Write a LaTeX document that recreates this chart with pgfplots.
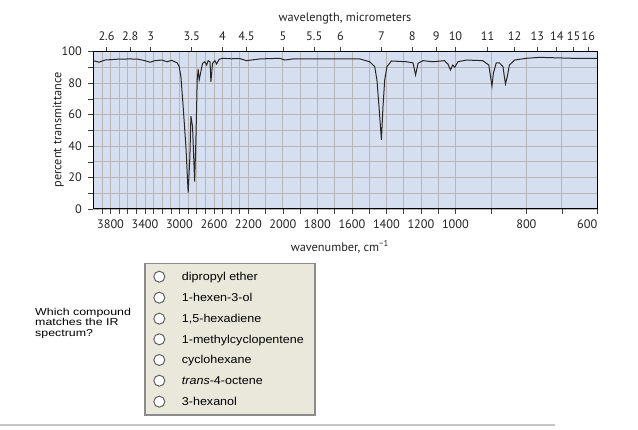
\documentclass[border=0pt]{standalone}
\usepackage{fontspec}
\setmainfont{PT Sans}
\newfontfamily\arial{Liberation Sans}
\usepackage{graphicx}
\usepackage{pgfplots}
\pgfplotsset{compat=1.18}

\definecolor{plotbg}{RGB}{213,223,240}
\definecolor{gridc}{RGB}{182,182,182}
\definecolor{boxfill}{RGB}{233,232,219}
\definecolor{boxline}{RGB}{140,140,140}
\definecolor{txt}{RGB}{35,35,35}

\pgfplotsset{
  irtrafo/.style={
    x coord trafo/.code={\pgfmathparse{(##1>=2200) ? (4000-##1)*0.08625 : ((##1>=1000) ? 155.25+(2200-##1)*0.17275 : 362.55+(1000-##1)*0.355)}},
  },
  irbase/.style={
    irtrafo,
    at={(93.3pt,221pt)}, anchor=south west,
    scale only axis, width=504pt, height=157.3pt,
    xmin=4000, xmax=600, ymin=0, ymax=100,
    tick align=outside,
    major tick length=5pt, minor tick length=5pt,
    tick style={black!75, line width=0.6pt},
    ticklabel style={font=\fontsize{12.3}{13}\selectfont, text=txt},
    label style={font=\fontsize{12.3}{13}\selectfont, text=txt},
    /pgf/number format/assume math mode=true,
  },
}

\pgfplotstableread{
w T
4000 94.3
3934 93.3
3864 94.7
3729 95.2
3574 95.4
3478 95.2
3401 94.3
3343 93.3
3285 94.3
3207 94.7
3142 93.6
3091 94.5
3026 92.9
3003 90.5
2983 84.1
2957 65
2925 39.6
2899 10.4
2879 33.2
2867 59.1
2848 52.3
2824 17.4
2809 43.9
2794 82
2783 89
2771 82
2751 87.5
2732 92.6
2705 93.6
2685 91.5
2667 94.3
2645 93.5
2635 80.9
2616 92.6
2589 94.3
2569 92.2
2539 95.2
2493 95.8
2400 95.5
2300 95.6
2221 94.3
2134 95.4
2018 95.8
1989 94.7
1941 95.4
1748 95.4
1555 95.4
1497 93.6
1468 90.5
1455 82
1443 65
1429 43.9
1420 65
1410 82
1397 90.5
1371 94.1
1284 93.6
1246 92.9
1231 85.2
1217 92.6
1188 94.3
1130 93.6
1063 94.3
1053 93
1044 92.2
1029 88.4
1016 91.5
1004 90.1
993 93.6
969 94.7
923 94.3
906 91.5
901 84.1
897 78.2
893 86.3
885 92.9
876 92.9
866 90.5
862 84
859 79.5
854 84
848 91.5
833 94.7
800 95.8
763 96.4
669 95.8
600 95.8
}\irdata

\begin{document}
\begin{tikzpicture}[x=1pt,y=1pt]
\path[use as bounding box] (0,0) rectangle (638,430);
% main axis (wavenumber)
\begin{axis}[
  irbase,
  axis background/.style={fill=plotbg},
  xtick={3800,3400,3000,2600,2200,2000,1800,1600,1400,1200,1000,800,600},
  xticklabels={3800,3400,3000,2600,2200,2000,1800,1600,1400,1200,1000,800,\makebox[0pt][r]{600}},
  minor xtick={3900,3700,3600,3500,3300,3200,3100,2900,2800,2700,2500,2400,2300,2100,1900,1700,1500,1300,1100,900,700},
  ytick={0,20,40,60,80,100},
  minor ytick={10,30,50,70,90},
  grid=both,
  major grid style={gridc, line width=0.8pt},
  minor grid style={gridc, line width=0.8pt},
  xtick pos=left, ytick pos=left,
  xticklabel style={yshift=-2.5pt},
  yticklabel style={xshift=-3pt},
  axis line style={black, line width=1pt},
  xlabel={wavenumber, cm\textsuperscript{−1}},
  xlabel style={at={(axis description cs:0.489,-0.2416)}, anchor=center},
  ylabel={percent transmittance},
  ylabel style={at={(axis description cs:-0.0694,0.502)}, anchor=center},
]
\addplot[black!85, line width=1pt] table[x=w, y=T] {\irdata};
\end{axis}
% top axis (wavelength)
\begin{axis}[
  irbase,
  axis x line*=top, axis y line=none,
  xtick={3846.15,3571.43,3333.33,2857.14,2500,2222.22,2000,1818.18,1666.67,1428.57,1250,1111.11,1000,909.09,833.33,769.23,714.29,666.67,625},
  xticklabels={2.6,2.8,3,3.5,4,4.5,5,5.5,6,7,8,9,10,11,12,13,14,15,16},
  xticklabel style={yshift=3pt},
  xlabel={wavelength, micrometers},
  xlabel style={at={(axis description cs:0.4994,1.2142)}, anchor=center},
]
\end{axis}
% question
\begin{scope}[font=\arial\fontsize{10}{10}\selectfont]
\node[anchor=base west, inner sep=0] at (35,430-315.2) {\scalebox{1.24}[1]{Which compound}};
\node[anchor=base west, inner sep=0] at (35,430-325.7) {\scalebox{1.24}[1]{matches the IR}};
\node[anchor=base west, inner sep=0] at (35,430-336.2) {\scalebox{1.24}[1]{spectrum?}};
\end{scope}
% options box
\draw[boxline, fill=boxfill, line width=1.4pt] (145,430-415) rectangle (315,430-263.3);
\foreach \yy/\lab in {280.7/{dipropyl ether},301.7/{1-hexen-3-ol},322.7/{1,5-hexadiene},343.3/{1-methylcyclopentene},364/{cyclohexane},384.7/{\textit{trans}-4-octene},405.7/{3-hexanol}}{
  \draw[gray!75!black, fill=white, line width=1pt] (159.3,430-\yy+4) circle (5.5);
  \node[anchor=base west, inner sep=0, font=\arial\fontsize{11.4}{12}\selectfont, text=black] at (181.7,430-\yy) {\scalebox{1.1}[1]{\lab}};
}
% bottom rule
\draw[gray!45, line width=1.5pt] (0,5) -- (555,5);
\end{tikzpicture}
\end{document}
